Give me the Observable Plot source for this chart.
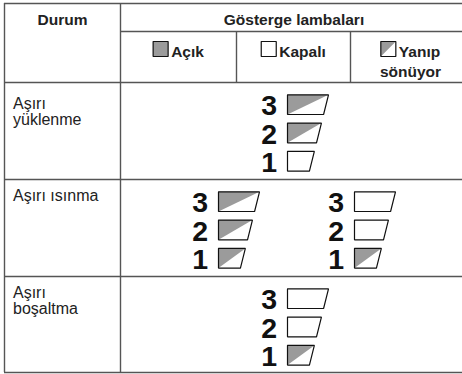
<!DOCTYPE html>
<html><head><meta charset="utf-8">
<script src="https://cdn.jsdelivr.net/npm/d3@7"></script>
<script src="https://cdn.jsdelivr.net/npm/@observablehq/plot@0.6"></script>
<style>body{margin:0;background:#fff}</style>
</head><body><div id="chart"></div>
<script>
// ---- data ----
const headerTitles = ["Durum", "Gösterge lambaları"];
const stateLabels = ["Açık", "Kapalı", "Yanıp sönüyor"];
const stateKeys = ["on", "off", "blink"];
const conditions = ["Aşırı\nyüklenme", "Aşırı ısınma", "Aşırı\nboşaltma"];
const lampNumbers = [3, 2, 1];
const overloadLamps = [["blink", "blink", "off"]];
const overheatLamps = [["blink", "blink", "blink"], ["off", "off", "blink"]];
const dischargeLamps = [["off", "off", "blink"]];
const conditionLamps = [overloadLamps, overheatLamps, dischargeLamps];

// ---- layout (pixel space) ----
const W = 462, H = 374;
const GRAY = "#9b9b9b", LINE = "#555";
const FONT = "'Liberation Sans', Arial, sans-serif";
const colX = [4, 120, 236, 350, 470];
const rowY = [3, 31, 82, 179, 276, 372];
const condBaseline = [26.3, 21.8, 21.8];
const regSize = 16, boldSize = 15.5;
const lampTop = 12.3, lampPitch = 28.3, lampH = 19.7, lampW = 41, slope = 0.25;
const groupLeft = {1: [287], 2: [218, 354]};

const canvas = document.createElement("canvas");
const ctx = canvas.getContext("2d");
function textW(t, font) { ctx.font = font; return ctx.measureText(t).width; }

// table rules
const hRules = [
  {y: rowY[0], x1: colX[0], x2: W},
  {y: rowY[1], x1: colX[1], x2: W},
  {y: rowY[2], x1: colX[0], x2: W},
  {y: rowY[3], x1: colX[0], x2: W},
  {y: rowY[4], x1: colX[0], x2: W},
  {y: rowY[5], x1: colX[0], x2: W}
];
const vRules = [
  {x: colX[0], y1: rowY[0], y2: rowY[5]},
  {x: colX[1], y1: rowY[0], y2: rowY[5]},
  {x: colX[2], y1: rowY[1], y2: rowY[2]},
  {x: colX[3], y1: rowY[1], y2: rowY[2]}
];

const polys = [];
function closed(pts) { return [...pts, pts[0]]; }
function addPoly(id, pts, kind) { closed(pts).forEach(([x, y]) => polys.push({id: id + "-" + kind, kind, x, y})); }
function addShape(id, pts, state) {
  addPoly(id, pts, "white");
  if (state === "on") addPoly(id, pts, "gray");
  if (state === "blink") addPoly(id, [pts[0], pts[1], pts[3]], "gray");
  addPoly(id, pts, "outline");
}

const boldTexts = [];
const regTexts = [];
const digits = [];

// header
boldTexts.push({x: (colX[0] + colX[1]) / 2, y: 24.5, text: headerTitles[0]});
boldTexts.push({x: 293.5, y: 24.5, text: headerTitles[1]});

// sub-header legend
const boldFont = `bold ${boldSize}px ${FONT}`;
const icon = 15, gap = 3;
stateLabels.forEach((label, i) => {
  const cx = (colX[i + 1] + colX[i + 2]) / 2;
  const words = stateKeys[i] === "blink" ? label.split(" ") : [label];
  const first = words[0];
  const blockW = icon + gap + textW(first, boldFont);
  const x0 = cx - blockW / 2;
  const base = 56;
  addShape("legend" + i, [[x0, base - icon], [x0 + icon, base - icon], [x0 + icon, base], [x0, base]], stateKeys[i]);
  boldTexts.push({x: x0 + icon + gap, y: base, text: first, anchor: "start"});
  if (words.length > 1) boldTexts.push({x: cx, y: base + 20.5, text: words.slice(1).join(" ")});
});

// body rows
conditions.forEach((c, r) => {
  const top = rowY[r + 2];
  regTexts.push({x: 12.5, y: top + condBaseline[r] - 0.71 * regSize, text: c});
  const groups = conditionLamps[r];
  groups.forEach((states, g) => {
    const L = groupLeft[groups.length][g];
    states.forEach((s, k) => {
      const t = top + lampTop + k * lampPitch;
      const b = t + lampH;
      const xrT = L + lampW - slope * (t - top - lampTop);
      const xrB = L + lampW - slope * (b - top - lampTop);
      addShape(`r${r}g${g}k${k}`, [[L, t], [xrT, t], [xrB, b], [L, b]], s);
      digits.push({x: L - 10.5, y: b + 0.7, text: String(lampNumbers[k])});
    });
  });
});

const chart = Plot.plot({
  width: W, height: H, margin: 0,
  style: {fontFamily: FONT, background: "#fff"},
  x: {domain: [0, W], range: [0, W], axis: null},
  y: {domain: [0, H], range: [0, H], axis: null},
  marks: [
    Plot.ruleY(hRules, {y: "y", x1: "x1", x2: "x2", stroke: LINE, strokeWidth: 1.4}),
    Plot.ruleX(vRules, {x: "x", y1: "y1", y2: "y2", stroke: LINE, strokeWidth: 1.4}),
    Plot.line(polys.filter(d => d.kind === "white"), {x: "x", y: "y", z: "id", fill: "#fff", stroke: "none"}),
    Plot.line(polys.filter(d => d.kind === "gray"), {x: "x", y: "y", z: "id", fill: GRAY, stroke: "none"}),
    Plot.line(polys.filter(d => d.kind === "outline"), {x: "x", y: "y", z: "id", fill: "none", stroke: "#111", strokeWidth: 1.2, strokeLinejoin: "miter"}),
    Plot.text(boldTexts.filter(d => d.anchor !== "start"), {x: "x", y: "y", text: "text", textAnchor: "middle", lineAnchor: "bottom", fontSize: boldSize, fontWeight: "bold", fill: "#222"}),
    Plot.text(boldTexts.filter(d => d.anchor === "start"), {x: "x", y: "y", text: "text", textAnchor: "start", lineAnchor: "bottom", fontSize: boldSize, fontWeight: "bold", fill: "#222"}),
    Plot.text(regTexts, {x: "x", y: "y", text: "text", textAnchor: "start", lineAnchor: "top", fontSize: regSize, lineHeight: 1, fill: "#222"}),
    Plot.text(digits, {x: "x", y: "y", text: "text", textAnchor: "end", lineAnchor: "bottom", fontSize: 28.5, fontWeight: "bold", fill: "#111"})
  ]
});
document.getElementById("chart").appendChild(chart);
</script>
</body></html>
